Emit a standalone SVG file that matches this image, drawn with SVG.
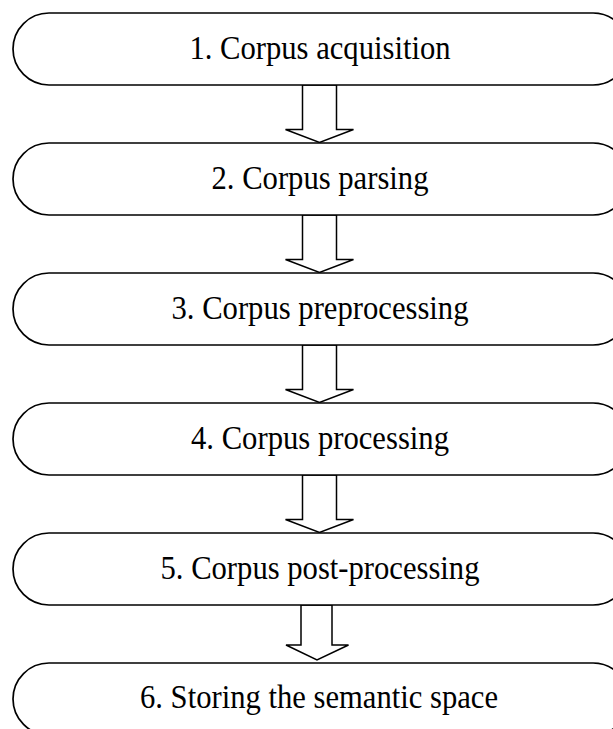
<svg xmlns="http://www.w3.org/2000/svg" width="613" height="729" viewBox="0 0 613 729">
<style>
.node{fill:#fff;stroke:#000;stroke-width:1.7}
.lbl{font-family:"Liberation Serif","Times New Roman",serif;font-size:33px;fill:#000;text-anchor:middle}
.arr{fill:#fff;stroke:#000;stroke-width:1.5;stroke-linejoin:miter}
</style>
<rect width="613" height="729" fill="#fff"/>
<g id="connectors">
<polygon class="arr" points="302.5,85 336.5,85 336.5,129.5 353.5,129.5 319.5,142.5 285.5,129.5 302.5,129.5"/>
<polygon class="arr" points="302.5,215 336.5,215 336.5,259.5 353.5,259.5 319.5,272.5 285.5,259.5 302.5,259.5"/>
<polygon class="arr" points="302.5,345 336.5,345 336.5,389.5 353.5,389.5 319.5,402.5 285.5,389.5 302.5,389.5"/>
<polygon class="arr" points="302.5,475 336.5,475 336.5,519.5 353.5,519.5 319.5,532.5 285.5,519.5 302.5,519.5"/>
<polygon class="arr" points="301,605 332,605 332,645 348.5,645 317,660 286,645 301,645"/>
</g>
<g id="node1"><rect class="node" x="13" y="13" width="616" height="72" rx="36" ry="36"/><text class="lbl" x="320" y="59" textLength="261" lengthAdjust="spacingAndGlyphs">1. Corpus acquisition</text></g>
<g id="node2"><rect class="node" x="13" y="143" width="616" height="72" rx="36" ry="36"/><text class="lbl" x="320" y="189" textLength="217" lengthAdjust="spacingAndGlyphs">2. Corpus parsing</text></g>
<g id="node3"><rect class="node" x="13" y="273" width="616" height="72" rx="36" ry="36"/><text class="lbl" x="320" y="319" textLength="297" lengthAdjust="spacingAndGlyphs">3. Corpus preprocessing</text></g>
<g id="node4"><rect class="node" x="13" y="403" width="616" height="72" rx="36" ry="36"/><text class="lbl" x="320" y="449" textLength="258" lengthAdjust="spacingAndGlyphs">4. Corpus processing</text></g>
<g id="node5"><rect class="node" x="13" y="533" width="616" height="72" rx="36" ry="36"/><text class="lbl" x="320" y="579" textLength="319" lengthAdjust="spacingAndGlyphs">5. Corpus post-processing</text></g>
<g id="node6"><rect class="node" x="13" y="663" width="616" height="72" rx="36" ry="36"/><text class="lbl" x="319" y="708" textLength="358" lengthAdjust="spacingAndGlyphs">6. Storing the semantic space</text></g>
</svg>
